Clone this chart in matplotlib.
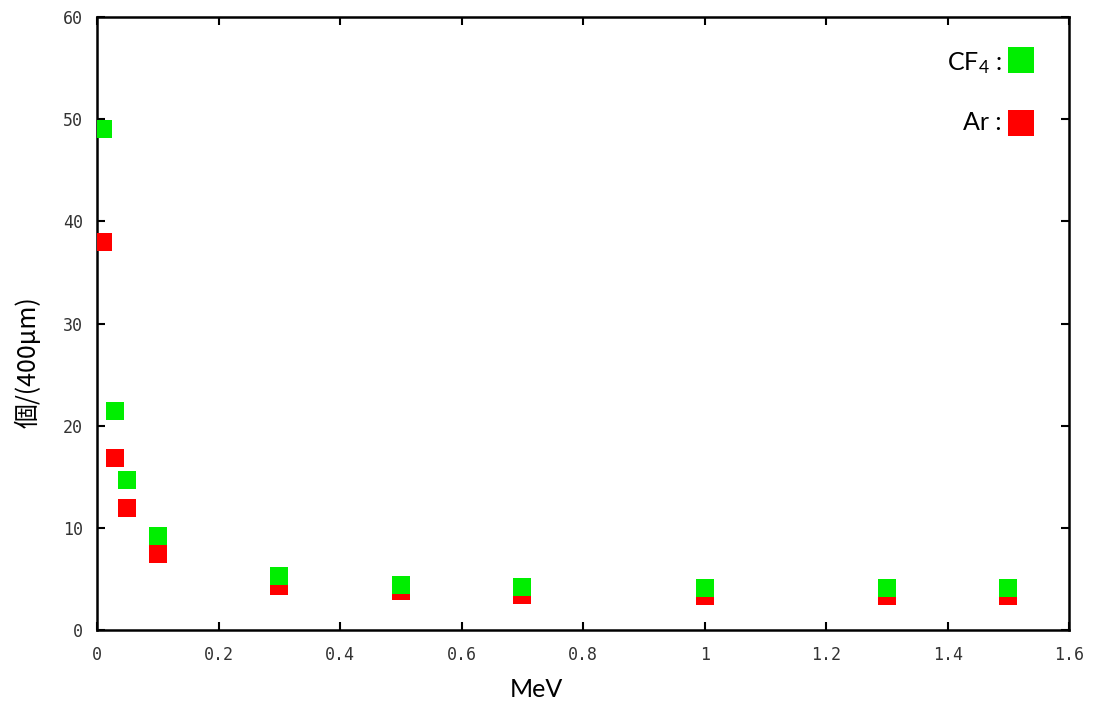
"""
Number of clusters per 400 um versus electron energy, CF4 and Ar.
"""

import matplotlib
matplotlib.use("Agg")
import matplotlib.pyplot as plt

energy = [0.01, 0.03, 0.05, 0.1, 0.3, 0.5, 0.7, 1.0, 1.3, 1.5]
cf4 = [49.0, 21.5, 14.7, 9.2, 5.3, 4.4, 4.2, 4.1, 4.1, 4.1]
ar = [38.0, 16.9, 12.0, 7.5, 4.3, 3.8, 3.5, 3.4, 3.4, 3.4]

xticks = [0, 0.2, 0.4, 0.6, 0.8, 1, 1.2, 1.4, 1.6]
xtick_labels = ["0", "0.2", "0.4", "0.6", "0.8", "1", "1.2", "1.4", "1.6"]
yticks = [0, 10, 20, 30, 40, 50, 60]

GREEN = "#00ee00"
RED = "#ff0000"

plt.rcParams["mathtext.fontset"] = "custom"
plt.rcParams["mathtext.rm"] = "Lato"
plt.rcParams["mathtext.it"] = "Lato:italic"


def main():
    fig = plt.figure(figsize=(10.96, 7.09), dpi=100)
    ax = fig.add_axes([0.0885, 0.111, 0.887, 0.865])

    # red first so the green squares sit on top where they overlap
    ax.plot(energy, ar, "s", color=RED, markersize=13.5, markeredgewidth=0,
            zorder=3)
    ax.plot(energy, cf4, "s", color=GREEN, markersize=13.5, markeredgewidth=0,
            zorder=4)

    ax.set_xlim(0, 1.6)
    ax.set_ylim(0, 60)
    ax.set_xticks(xticks)
    ax.set_xticklabels(xtick_labels)
    ax.set_yticks(yticks)
    ax.tick_params(direction="in", top=True, right=True, length=6, width=1.5,
                   labelsize=12, colors="black", labelcolor="#333333")
    ax.tick_params(axis="x", pad=11)
    ax.tick_params(axis="y", pad=10)
    for lab in ax.get_xticklabels() + ax.get_yticklabels():
        lab.set_family("DejaVu Sans Mono")
    for sp in ax.spines.values():
        sp.set_linewidth(1.8)

    ax.set_xlabel("MeV", fontsize=18, family="Lato")
    ax.xaxis.set_label_coords(0.452, -0.078)
    ax.set_ylabel("個/(400μm)", fontsize=18,
                  family=["Noto Sans CJK JP", "DejaVu Sans"])
    ax.yaxis.set_label_coords(-0.057, 0.437)

    # key in the upper right corner: label, colon, coloured square
    keys = [("CF$_4$ :", GREEN, 0.9135, 0.930), ("Ar :", RED, 0.816, 0.827)]
    for text, color, ty, my in keys:
        ax.text(0.931, ty, text, transform=ax.transAxes, ha="right",
                va="baseline", fontsize=18, family="Lato")
        ax.plot([0.950], [my], "s", color=color, markersize=18.5,
                markeredgewidth=0, transform=ax.transAxes, clip_on=False)

    fig.savefig("out.png", dpi=100)


if __name__ == "__main__":
    main()
